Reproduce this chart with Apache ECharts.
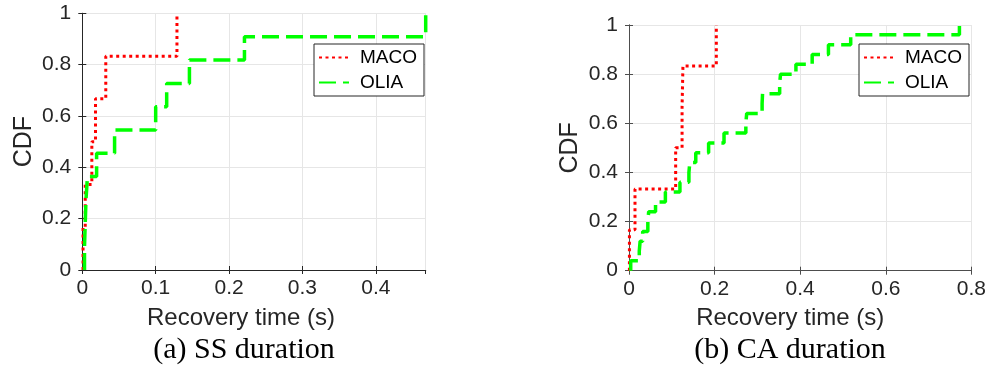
<!DOCTYPE html>
<html><head><meta charset="utf-8">
<script src="https://cdn.jsdelivr.net/npm/echarts@6/dist/echarts.min.js"></script>
<style>html,body{margin:0;padding:0;background:#fff}#c{width:989px;height:381px}</style>
</head><body><div id="c"></div>
<script>
// ---- data ----
const seriesNames = ['MACO', 'OLIA'];
// (a) SS duration
const macoSS_x   = [0.001, 0.004, 0.013, 0.018, 0.032, 0.129];
const macoSS_cdf = [0.167, 0.333, 0.5, 0.667, 0.833, 1];
const oliaSS_x   = [0.003, 0.004, 0.005, 0.007, 0.0195, 0.044, 0.1, 0.115, 0.146, 0.221, 0.468];
const oliaSS_cdf = [0.091, 0.182, 0.273, 0.364, 0.455, 0.545, 0.636, 0.727, 0.818, 0.909, 1];
// (b) CA duration
const macoCA_x   = [0.001, 0.014, 0.109, 0.124, 0.126, 0.204];
const macoCA_cdf = [0.167, 0.333, 0.5, 0.667, 0.833, 1];
const oliaCA_x   = [0.004, 0.024, 0.026, 0.032, 0.044, 0.046, 0.062, 0.085, 0.119, 0.14, 0.142, 0.156, 0.186,
                    0.222, 0.273, 0.275, 0.311, 0.312, 0.352, 0.354, 0.39, 0.428, 0.466, 0.518, 0.772];
const oliaCA_cdf = [0.04, 0.08, 0.12, 0.16, 0.2, 0.24, 0.28, 0.32, 0.36, 0.4, 0.44, 0.48, 0.52,
                    0.56, 0.6, 0.64, 0.68, 0.72, 0.76, 0.8, 0.84, 0.88, 0.92, 0.96, 1];
const xMaxSS = 0.468, xMaxCA = 0.8;
const xIntervalSS = 0.1, xIntervalCA = 0.2, yInterval = 0.2;
const xAxisTitle = 'Recovery time (s)';
const yAxisTitle = 'CDF';
const captions = ['(a) SS duration', '(b) CA duration'];

function cdfPoints(xs, cs) {
  const pts = [[xs[0], 0]];
  for (let i = 0; i < xs.length; i++) pts.push([xs[i], cs[i]]);
  return pts;
}

const FONT = 'Liberation Sans';
const TXT = '#262626';
const GRIDC = '#e6e6e6';

function axesFor(gi, max, interval, axisColor, labelMargin, yNameGap, namePad) {
  const common = {
    gridIndex: gi, min: 0, max: max, interval: interval,
    axisLine: {show: true, lineStyle: {color: axisColor, width: 1}},
    axisTick: {show: true, inside: true, length: 4, lineStyle: {color: axisColor}},
  };
  const aligned = Math.abs(max / interval - Math.round(max / interval)) < 1e-6;
  const xb = Object.assign({}, common, {
    type: 'value', position: 'bottom',
    splitLine: {show: true, lineStyle: {color: GRIDC, width: 1}},
    axisLabel: {show: true, color: TXT, fontFamily: FONT, fontSize: 21, margin: 8, showMaxLabel: aligned},
    name: xAxisTitle, nameLocation: 'middle', nameGap: 36,
    nameTextStyle: {color: TXT, fontFamily: FONT, fontSize: 24, padding: namePad}
  });
  const xt = Object.assign({}, common, {
    type: 'value', position: 'top', splitLine: {show: false}, axisLabel: {show: false}
  });
  const yl = {
    type: 'value', gridIndex: gi, min: 0, max: 1, interval: yInterval, position: 'left',
    axisLine: {show: true, lineStyle: {color: axisColor, width: 1}},
    axisTick: {show: true, inside: true, length: 4, lineStyle: {color: axisColor}},
    splitLine: {show: true, lineStyle: {color: GRIDC, width: 1}},
    axisLabel: {show: true, color: TXT, fontFamily: FONT, fontSize: 21, margin: labelMargin},
    name: yAxisTitle, nameLocation: 'middle', nameGap: yNameGap, nameRotate: 90,
    nameTextStyle: {color: TXT, fontFamily: FONT, fontSize: 25}
  };
  const yr = {
    type: 'value', gridIndex: gi, min: 0, max: 1, interval: yInterval, position: 'right',
    axisLine: {show: true, lineStyle: {color: axisColor, width: 1}},
    axisTick: {show: true, inside: true, length: 4, lineStyle: {color: axisColor}},
    splitLine: {show: false}, axisLabel: {show: false}
  };
  return {xb, xt, yl, yr};
}

const A = axesFor(0, xMaxSS, xIntervalSS, '#262626', 11, 46, [0, 26, 0, 0]);
const B = axesFor(1, xMaxCA, xIntervalCA, '#4d4d4d', 11, 46, [0, 20, 0, 0]);

const redStyle = {color: '#ff0000', width: 3, type: [3, 3.5], cap: 'butt'};
const greenStyle = {color: '#00ff00', width: 3.5, type: [17, 7], cap: 'butt'};

function lineSeries(name, pts, xi, yi, style) {
  return {
    name: name, type: 'line', step: 'end', data: pts, xAxisIndex: xi, yAxisIndex: yi,
    showSymbol: false, symbol: 'none', lineStyle: style, itemStyle: {color: style.color},
    animation: false, silent: true, clip: false
  };
}

function legendAt(left, top) {
  return {
    left: left, top: top, orient: 'vertical', data: seriesNames,
    backgroundColor: '#fff', borderColor: '#262626', borderWidth: 1, borderRadius: 0,
    padding: [4, 7, 4, 4], itemGap: 6, itemWidth: 30, itemHeight: 14,
    itemStyle: {opacity: 0, color: 'rgba(0,0,0,0)', borderWidth: 0},
    textStyle: {color: '#000', fontFamily: FONT, fontSize: 19, padding: [0, 0, 0, 6]},
    selectedMode: false
  };
}

const chart = echarts.init(document.getElementById('c'), null, {renderer: 'canvas'});
chart.setOption({
  backgroundColor: '#fff',
  animation: false,
  grid: [
    {left: 82.3, top: 13.3, width: 343.4, height: 256.7, show: false},
    {left: 629, top: 25, width: 343.7, height: 245.7, show: false}
  ],
  xAxis: [A.xb, A.xt, B.xb, B.xt],
  yAxis: [A.yl, A.yr, B.yl, B.yr],
  legend: [legendAt(314, 44), legendAt(859, 44)],
  series: [
    lineSeries(seriesNames[0], cdfPoints(macoSS_x, macoSS_cdf), 0, 0, redStyle),
    lineSeries(seriesNames[1], cdfPoints(oliaSS_x, oliaSS_cdf), 0, 0, greenStyle),
    lineSeries(seriesNames[0], cdfPoints(macoCA_x, macoCA_cdf), 2, 2, redStyle),
    lineSeries(seriesNames[1], cdfPoints(oliaCA_x, oliaCA_cdf), 2, 2, greenStyle)
  ],
  graphic: [
    {type: 'text', x: 244, y: 350, style: {text: captions[0], fill: '#000', font: '30px "Liberation Serif"', align: 'center', verticalAlign: 'middle'}},
    {type: 'text', x: 790, y: 350, style: {text: captions[1], fill: '#000', font: '30px "Liberation Serif"', align: 'center', verticalAlign: 'middle'}}
  ]
});
</script>
</body></html>
